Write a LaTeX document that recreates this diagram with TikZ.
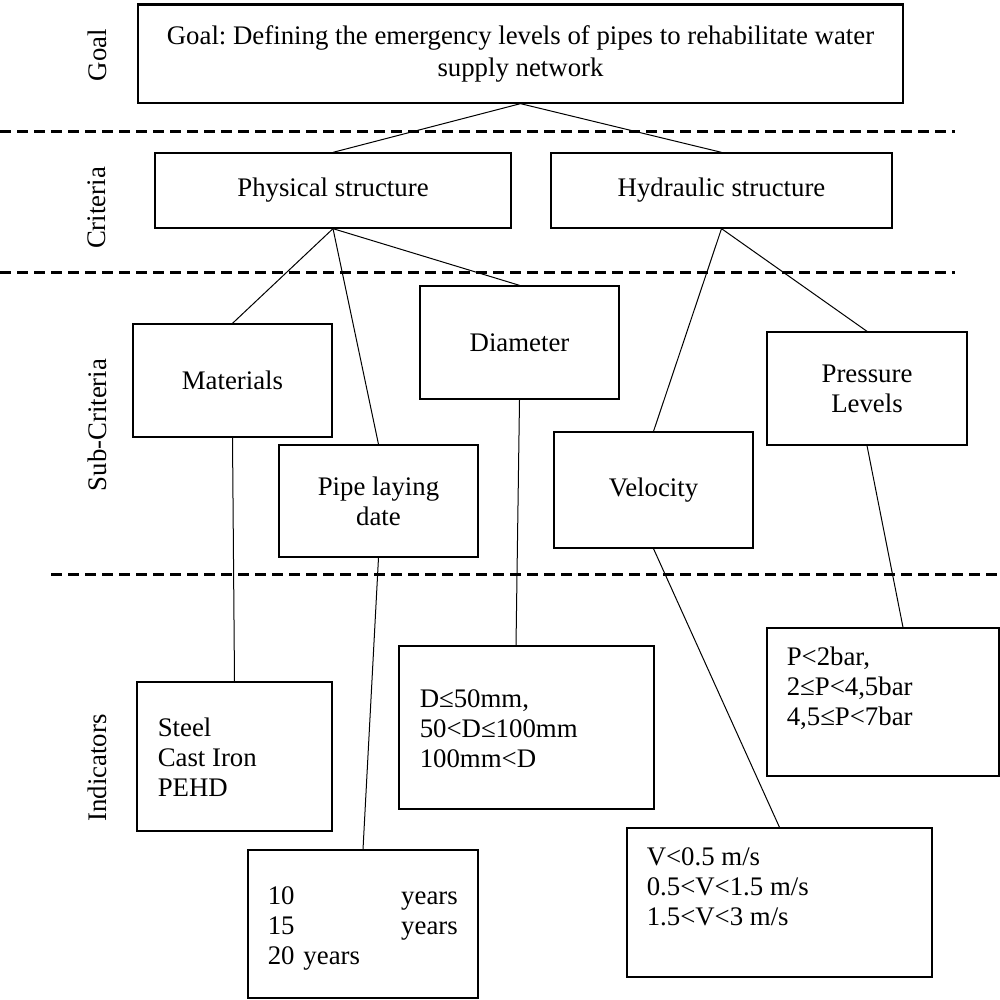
\documentclass[tikz,border=0pt]{standalone}
\usepackage{fontspec}
\setmainfont{Liberation Serif}
\frenchspacing
\usetikzlibrary{positioning}

\begin{document}
\begin{tikzpicture}[x=0.5pt,y=0.5pt,yscale=-1,xscale=1,
  every node/.style={font=\fontsize{13.4}{15}\selectfont},
  box/.style={draw, line width=0.65pt, inner sep=0pt, align=center},
  link/.style={line width=0.5pt},
  level/.style={line width=1.5pt, dash pattern=on 5.5pt off 3pt},
  side/.style={rotate=90, inner sep=0pt},
  indtext/.style={anchor=north west, inner sep=0pt, align=left}]
\useasboundingbox (0,0) rectangle (1000,1000);

%Dashed level separators
\draw[level] (0,132) -- (955,132);
\draw[level] (0,272) -- (955,272);
\draw[level] (51,574) -- (1000,574);

% Level names
\node[side] (goallbl) at (97,55) {Goal};
\node[side] (critlbl) at (97,208) {Criteria};
\node[side] (sublbl) at (97,425) {Sub-Criteria};
\node[side] (indlbl) at (97,768) {Indicators};

%Shape: Goal
\node[box, minimum width=382.5pt, minimum height=49pt, font=\fontsize{13.4}{16}\selectfont] (goal) at (520.5,54) {Goal: Defining the emergency levels of pipes to rehabilitate water\\supply network};
\draw[line width=1.5pt] (goal.north west) -- (goal.north east);

%Shape: Criteria
\node[box, minimum width=178pt, minimum height=37.5pt] (phys) at (333,190.5) {Physical structure};
\node[box, minimum width=170.5pt, minimum height=37.5pt] (hyd) at (721.5,190.5) {Hydraulic structure};

%Shape: Sub-criteria
\node[box, minimum width=99.5pt, minimum height=56.5pt] (mat) at (232.5,380.5) {Materials};
\node[box, minimum width=99.5pt, minimum height=56pt] (pipe) at (378.5,501) {Pipe laying\\date};
\node[box, minimum width=99.5pt, minimum height=56.5pt] (diam) at (519.5,342.5) {Diameter};
\node[box, minimum width=99.5pt, minimum height=58pt] (vel) at (653.5,490) {Velocity};
\node[box, minimum width=100pt, minimum height=56.5pt] (pres) at (867,388.5) {Pressure\\Levels};

%Shape: Indicators
\node[box, minimum width=97.5pt, minimum height=74.5pt] (matind) at (234.5,756.5) {};
\node[box, minimum width=115pt, minimum height=74pt] (pipeind) at (363,924) {};
\node[box, minimum width=127.5pt, minimum height=81.5pt] (diamind) at (526.5,727.5) {};
\node[box, minimum width=152.5pt, minimum height=74.5pt] (velind) at (779.5,902.5) {};
\node[box, minimum width=116pt, minimum height=74pt] (presind) at (883,702) {};

% Text Node
\node[indtext] (mattext) at ([shift={(21,36)}]matind.north west) {Steel\\Cast Iron\\PEHD};
% Text Node
\node[indtext, text width=95pt] (pipetext) at ([shift={(20,37)}]pipeind.north west) {10\hfill years\\15\hfill years\\20 years};
% Text Node
\node[indtext] (diamtext) at ([shift={(21,44)}]diamind.north west) {D≤50mm,\\50<D≤100mm\\100mm<D};
% Text Node
\node[indtext] (veltext) at ([shift={(20,20)}]velind.north west) {V<0.5 m/s\\0.5<V<1.5 m/s\\1.5<V<3 m/s};
% Text Node
\node[indtext] (prestext) at ([shift={(20,19)}]presind.north west) {P<2bar,\\2≤P<4,5bar\\4,5≤P<7bar};

%Straight Lines
\draw[link] (goal.south) -- (phys.north);
\draw[link] (goal.south) -- (hyd.north);
\draw[link] (phys.south) -- (mat.north);
\draw[link] (phys.south) -- (pipe.north);
\draw[link] (phys.south) -- (diam.north);
\draw[link] (hyd.south) -- (vel.north);
\draw[link] (hyd.south) -- (pres.north);
\draw[link] (mat.south) -- (matind.north);
\draw[link] (pipe.south) -- (pipeind.north);
\draw[link] (diam.south) -- ([xshift=-5.25pt]diamind.north);
\draw[link] (vel.south) -- (velind.north);
\draw[link] (pres.south) -- ([xshift=10pt]presind.north);

\end{tikzpicture}
\end{document}
